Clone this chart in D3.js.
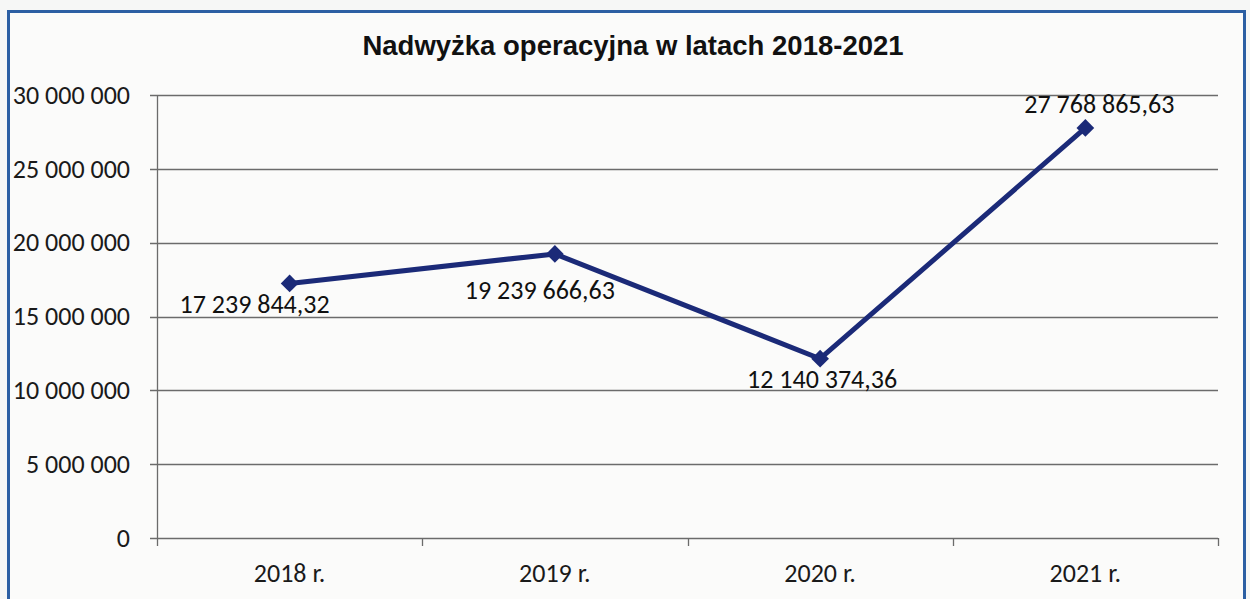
<!DOCTYPE html>
<html>
<head>
<meta charset="utf-8">
<script src="https://cdn.jsdelivr.net/npm/d3@7"></script>
<style>
  body { margin: 0; background: #f6f7f6; }
  svg { display: block; }
</style>
</head>
<body>
<svg id="chart" width="1250" height="599"></svg>
<script>
// chart data
const years = ['2018 r.', '2019 r.', '2020 r.', '2021 r.'];
const values = [17239844.32, 19239666.63, 12140374.36, 27768865.63];
const yTicks = [0, 5000000, 10000000, 15000000, 20000000, 25000000, 30000000];
const title = 'Nadwyżka operacyjna w latach 2018-2021';

const svg = d3.select('#chart');
const margin = { top: 95, right: 32, bottom: 61, left: 157 };
const width = 1250 - margin.left - margin.right;
const height = 599 - margin.top - margin.bottom;
const font = 'Carlito, "Open Sans", sans-serif';

// outer frame
svg.append('rect')
  .attr('x', 8.5).attr('y', 11.5)
  .attr('width', 1236).attr('height', 620)
  .attr('fill', '#fbfbfa')
  .attr('stroke', '#2c5fa3')
  .attr('stroke-width', 3);

svg.append('text')
  .attr('x', 633)
  .attr('y', 55)
  .attr('text-anchor', 'middle')
  .attr('font-family', 'Liberation Sans, Arial, sans-serif')
  .attr('font-weight', 'bold')
  .attr('font-size', 27.5)
  .attr('fill', '#111')
  .text(title);

const g = svg.append('g')
  .attr('transform', `translate(${margin.left}, ${margin.top})`);

const x = d3.scaleBand().domain(years).range([0, width]);
const y = d3.scaleLinear().domain([0, 30000000]).range([height, 0]);

const fmt = v => d3.format(',')(v).replace(/,/g, ' ');
const fmtDec = v => d3.format(',.2f')(v).replace(/,/g, ' ').replace('.', ',');

// gridlines
g.append('g')
  .selectAll('line')
  .data(yTicks)
  .join('line')
  .attr('x1', -7).attr('x2', width)
  .attr('y1', d => Math.round(y(d)) + 0.5)
  .attr('y2', d => Math.round(y(d)) + 0.5)
  .attr('stroke', '#6b6b6b')
  .attr('stroke-width', 1.3);

// y axis
const yAxis = g.append('g')
  .call(d3.axisLeft(y).tickValues(yTicks).tickFormat(fmt).tickSize(0).tickPadding(27));
yAxis.select('.domain').attr('stroke', '#6b6b6b').attr('stroke-width', 1.3);
yAxis.selectAll('text')
  .attr('font-family', font)
  .attr('font-size', 26)
  .attr('fill', '#1a1a1a');

// x axis
const xAxis = g.append('g')
  .attr('transform', `translate(0, ${height})`)
  .call(d3.axisBottom(x).tickSize(0).tickPadding(26));
xAxis.select('.domain').remove();
xAxis.selectAll('text')
  .attr('font-family', font)
  .attr('font-size', 26)
  .attr('fill', '#1a1a1a');

// category boundary ticks
const bounds = years.map(d => x(d)).concat([width]);
g.append('g')
  .selectAll('line')
  .data(bounds)
  .join('line')
  .attr('x1', d => Math.round(d) + 0.5).attr('x2', d => Math.round(d) + 0.5)
  .attr('y1', height).attr('y2', height + 8)
  .attr('stroke', '#6b6b6b')
  .attr('stroke-width', 1.3);

const cx = d => x(d) + x.bandwidth() / 2;

// line
g.append('path')
  .datum(values)
  .attr('d', d3.line().x((d, i) => cx(years[i])).y(d => y(d)))
  .attr('fill', 'none')
  .attr('stroke', '#1b2a78')
  .attr('stroke-width', 5)
  .attr('stroke-linejoin', 'round');

// diamond markers
g.append('g')
  .selectAll('path')
  .data(values)
  .join('path')
  .attr('d', d3.symbol(d3.symbolDiamond2, 200))
  .attr('transform', (d, i) => `translate(${cx(years[i])}, ${y(d)})`)
  .attr('fill', '#1b2a78');

// data labels (placement like the original)
const labelShift = [[-35, 30], [-15, 45], [2, 29], [14, -15]];
g.append('g')
  .selectAll('text')
  .data(values)
  .join('text')
  .attr('x', (d, i) => cx(years[i]) + labelShift[i][0])
  .attr('y', (d, i) => y(d) + labelShift[i][1])
  .attr('text-anchor', 'middle')
  .attr('font-family', font)
  .attr('font-size', 26)
  .attr('fill', '#111')
  .text(d => fmtDec(d));
</script>
</body>
</html>
